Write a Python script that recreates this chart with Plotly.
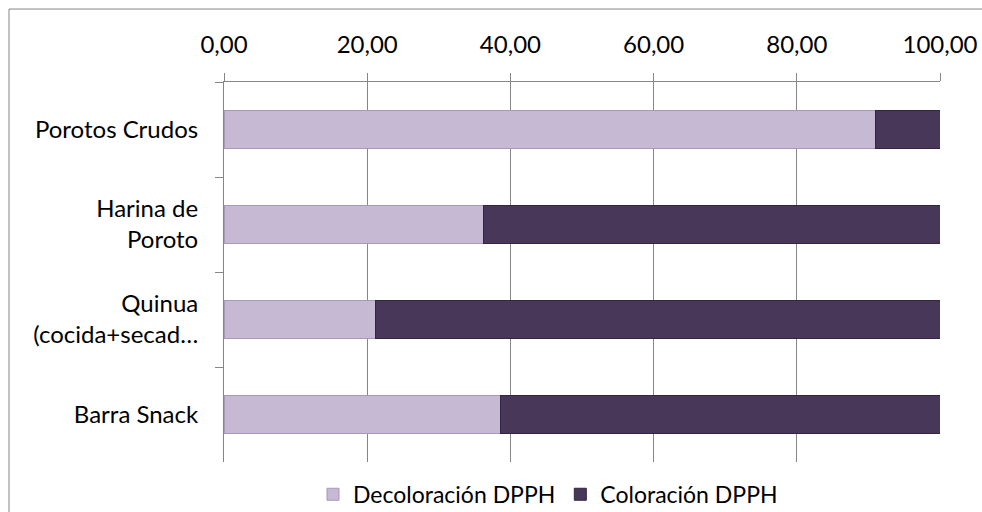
import plotly.graph_objects as go

# Data
categorias = ["Porotos Crudos", "Harina de<br>Poroto", "Quinua<br>(cocida+secad…", "Barra Snack"]
decoloracion = [91.0, 36.2, 21.2, 38.6]
coloracion = [9.0, 63.8, 78.8, 61.4]
tick_vals = [0, 20, 40, 60, 80, 100]
tick_text = ["0,00", "20,00", "40,00", "60,00", "80,00", "100,00"]

FONT = "Lato"
GRIS = "#868686"

fig = go.Figure()
fig.add_trace(go.Bar(
    y=categorias, x=decoloracion, orientation="h", name="Decoloración DPPH",
    marker=dict(color="#C5B9D3", line=dict(color="#A898BA", width=1)),
))
fig.add_trace(go.Bar(
    y=categorias, x=coloracion, orientation="h", name="Coloración DPPH",
    marker=dict(color="#483758", line=dict(color="#332541", width=1)),
))

fig.update_layout(
    width=982, height=512,
    barmode="stack", bargap=0.6,
    margin=dict(l=224, r=42, t=82, b=50, autoexpand=False),
    paper_bgcolor="white", plot_bgcolor="white",
    font=dict(family=FONT, size=24, color="black"),
    showlegend=True,
    legend=dict(orientation="h", x=0.4525, xanchor="center", y=-0.085, yanchor="middle",
                font=dict(size=23), traceorder="normal", itemwidth=30),
    xaxis=dict(
        side="top", range=[0, 100], tickvals=tick_vals, ticktext=tick_text,
        showgrid=True, gridcolor=GRIS, gridwidth=1,
        showline=True, linecolor=GRIS, linewidth=1,
        ticks="outside", ticklen=8, tickcolor=GRIS, ticklabelstandoff=10,
        zeroline=False, automargin=False,
    ),
    yaxis=dict(
        categoryorder="array", categoryarray=categorias, autorange="reversed",
        showline=True, linecolor=GRIS, linewidth=1,
        ticks="outside", ticklen=8, tickcolor=GRIS, tickson="boundaries",
        ticklabelstandoff=20, showgrid=False, automargin=False,
    ),
    shapes=[dict(type="rect", xref="paper", yref="paper",
                 x0=-0.3003, x1=1.07, y0=-0.2, y1=1.192,
                 line=dict(color=GRIS, width=1), layer="below")],
)

fig.write_html("out.html")
